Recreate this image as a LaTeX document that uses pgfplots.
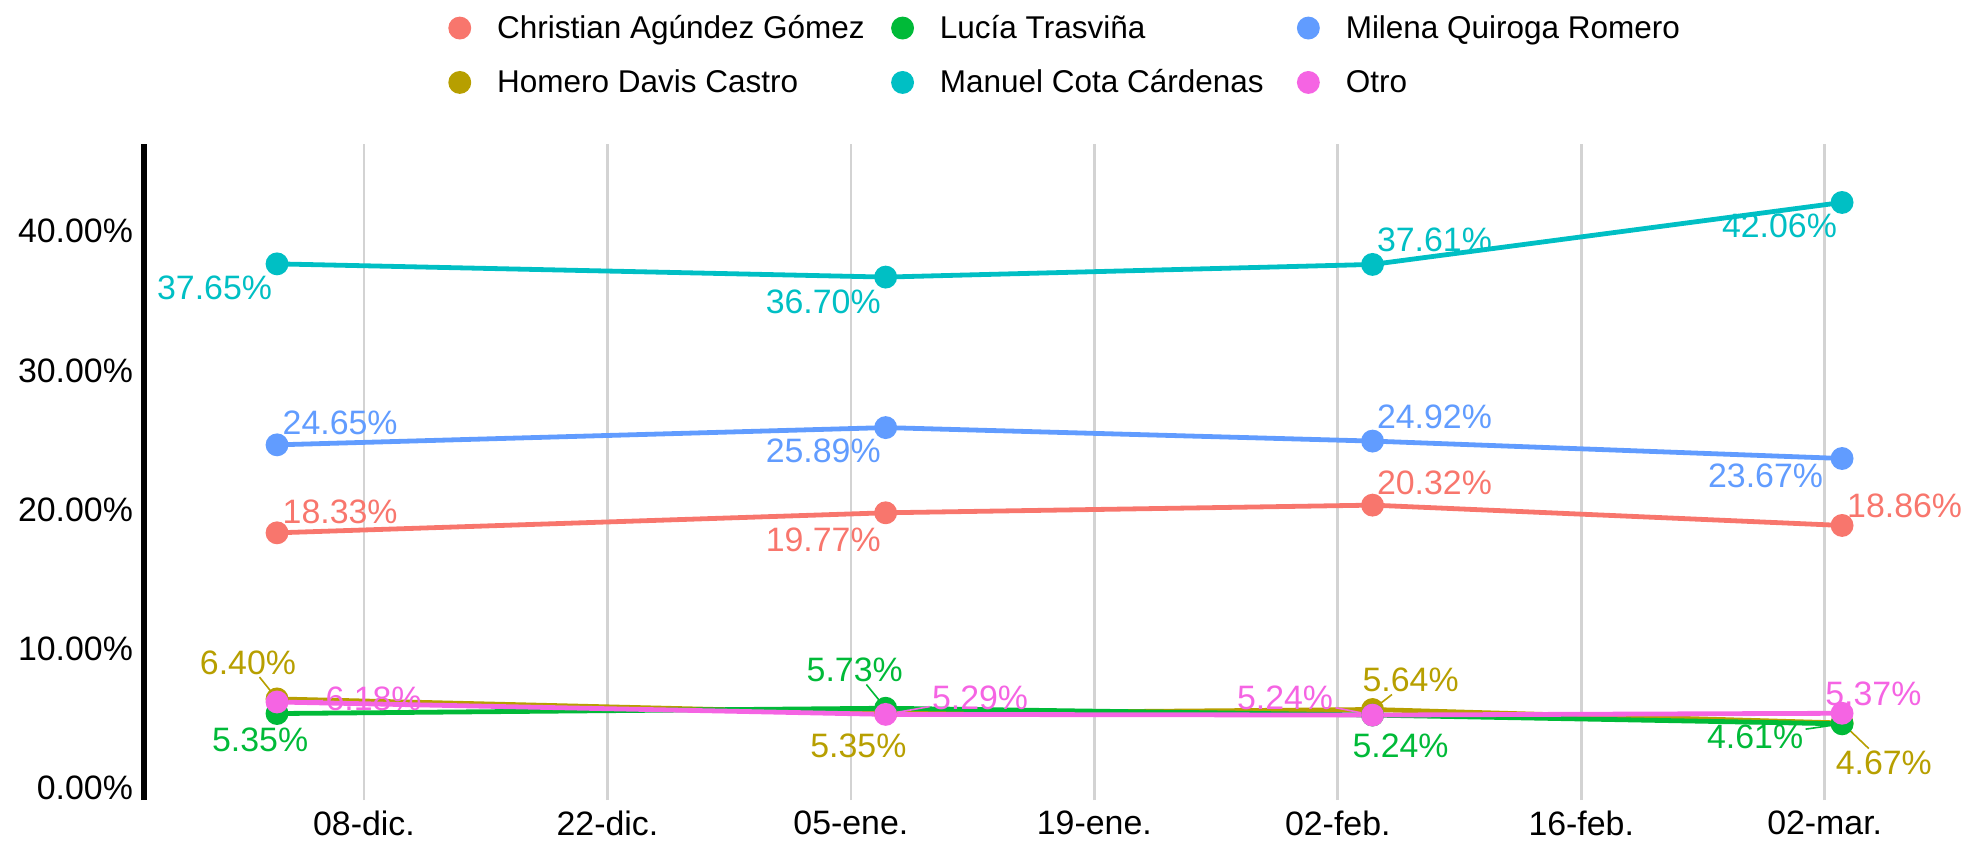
\documentclass[border=0pt]{standalone}
\usepackage{pgfplots}
\pgfplotsset{compat=1.18}
\usepackage{fontspec}
\setmainfont{Liberation Sans}
\definecolor{cC}{HTML}{F8766D}
\definecolor{cH}{HTML}{B79F00}
\definecolor{cL}{HTML}{00BA38}
\definecolor{cM}{HTML}{00BFC4}
\definecolor{cQ}{HTML}{619CFF}
\definecolor{cO}{HTML}{F564E3}
\definecolor{gridc}{HTML}{D3D3D3}
\newcommand\tkfont{\fontsize{17}{20}\selectfont}
\newcommand\lgfont{\fontsize{15.8}{18}\selectfont}
\newcommand\ent[2]{\makebox[#1][l]{\rule[-4bp]{0pt}{16bp}#2}}
\begin{document}
\begin{tikzpicture}
\useasboundingbox (0,0) rectangle (983.5bp,421.5bp);
\begin{axis}[
  at={(72bp,21.5bp)}, anchor=south west,
  scale only axis, width=892.5bp, height=328bp,
  xmin=-12.65, xmax=90, ymin=-0.86, ymax=46.26,
  clip=false,
  axis lines*=left,
  separate axis lines,
  x axis line style={draw=none},
  y axis line style={line width=3.2bp, black},
  xtick={0,14,28,42,56,70,84},
  xticklabels={08-dic.,22-dic.,05-ene.,19-ene.,02-feb.,16-feb.,02-mar.},
  ytick={0,10,20,30,40},
  yticklabels={0.00\%,10.00\%,20.00\%,30.00\%,40.00\%},
  major tick length=0pt,
  xmajorgrids,
  grid style={line width=1.3bp, gridc},
  ticklabel style={font=\tkfont, text=black},
  yticklabel style={xshift=-2bp},
  xticklabel style={yshift=-2bp},
  legend columns=3,
  legend style={at={(0.516,1.204)}, anchor=north, draw=none, fill=none,
    font=\lgfont, nodes={inner sep=0pt},
    /tikz/every odd column/.append style={column sep=13bp},
    /tikz/every even column/.append style={column sep=0bp},
    row sep=13.7bp},
  legend image code/.code={\fill (0bp,0bp) circle (4.5bp);},
]
\addlegendimage{cC}\addlegendentry{\ent{197bp}{Christian Agúndez Gómez}}
\addlegendimage{cL}\addlegendentry{\ent{178.5bp}{Lucía Trasviña}}
\addlegendimage{cQ}\addlegendentry{\ent{168bp}{Milena Quiroga Romero}}
\addlegendimage{cH}\addlegendentry{\ent{197bp}{Homero Davis Castro}}
\addlegendimage{cM}\addlegendentry{\ent{178.5bp}{Manuel Cota Cárdenas}}
\addlegendimage{cO}\addlegendentry{\ent{168bp}{Otro}}

\pgfplotsset{every axis plot/.append style={line width=2.4bp, mark=*, mark size=4.5bp, forget plot}}
\addplot[cC] coordinates {(-5,18.33) (30,19.77) (58,20.32) (85,18.86)};
\addplot[cH] coordinates {(-5,6.40) (30,5.35) (58,5.64) (85,4.67)};
\addplot[cL] coordinates {(-5,5.35) (30,5.73) (58,5.24) (85,4.61)};
\addplot[cM] coordinates {(-5,37.65) (30,36.70) (58,37.61) (85,42.06)};
\addplot[cQ] coordinates {(-5,24.65) (30,25.89) (58,24.92) (85,23.67)};
\addplot[cO] coordinates {(-5,6.18) (30,5.29) (58,5.24) (85,5.37)};

\tikzset{lab/.style={font=\tkfont, inner sep=1bp}, seg/.style={line width=0.8bp, shorten <=3bp}}
% Manuel
\node[lab, text=cM] at (axis cs:-8.59,35.95) {37.65\%};
\node[lab, text=cM] at (axis cs:26.41,34.95) {36.70\%};
\node[lab, text=cM] at (axis cs:61.56,39.37) {37.61\%};
\node[lab, text=cM] at (axis cs:81.4,40.4) {42.06\%};
% Milena
\node[lab, text=cQ] at (axis cs:-1.37,26.22) {24.65\%};
\node[lab, text=cQ] at (axis cs:26.41,24.23) {25.89\%};
\node[lab, text=cQ] at (axis cs:61.56,26.67) {24.92\%};
\node[lab, text=cQ] at (axis cs:80.6,22.4) {23.67\%};
% Christian
\node[lab, text=cC] at (axis cs:-1.37,19.82) {18.33\%};
\node[lab, text=cC] at (axis cs:26.41,17.84) {19.77\%};
\node[lab, text=cC] at (axis cs:61.56,21.89) {20.32\%};
\node[lab, text=cC] at (axis cs:88.6,20.26) {18.86\%};
% Homero
\node[lab, text=cH] (h1) at (axis cs:-6.67,9.0) {6.40\%};
\node[lab, text=cH] at (axis cs:28.43,3.06) {5.35\%};
\node[lab, text=cH] (h3) at (axis cs:60.19,7.75) {5.64\%};
\node[lab, text=cH] (h4) at (axis cs:87.4,1.80) {4.67\%};
% Lucia
\node[lab, text=cL] at (axis cs:-5.97,3.45) {5.35\%};
\node[lab, text=cL] (l2) at (axis cs:28.22,8.47) {5.73\%};
\node[lab, text=cL] at (axis cs:59.61,3.06) {5.24\%};
\node[lab, text=cL] (l4) at (axis cs:80.0,3.7) {4.61\%};
% Otro
\node[lab, text=cO] (o1) at (axis cs:0.55,6.4) {6.18\%};
\node[lab, text=cO] (o2) at (axis cs:35.43,6.49) {5.29\%};
\node[lab, text=cO] (o3) at (axis cs:52.97,6.49) {5.24\%};
\node[lab, text=cO] at (axis cs:86.8,6.8) {5.37\%};
% segments
\draw[seg, cH] (axis cs:-5,6.40) -- (h1);
\draw[seg, cO] (axis cs:-5,6.18) -- (o1);
\draw[seg, cL] (axis cs:30,5.73) -- (l2);
\draw[seg, cO] (axis cs:30,5.29) -- (o2);
\draw[seg, cO] (axis cs:58,5.24) -- (o3);
\draw[seg, cH] (axis cs:58,5.64) -- (h3);
\draw[seg, cL] (axis cs:85,4.61) -- (l4);
\draw[seg, cH] (axis cs:85,4.67) -- (h4);
\end{axis}
\end{tikzpicture}
\end{document}
